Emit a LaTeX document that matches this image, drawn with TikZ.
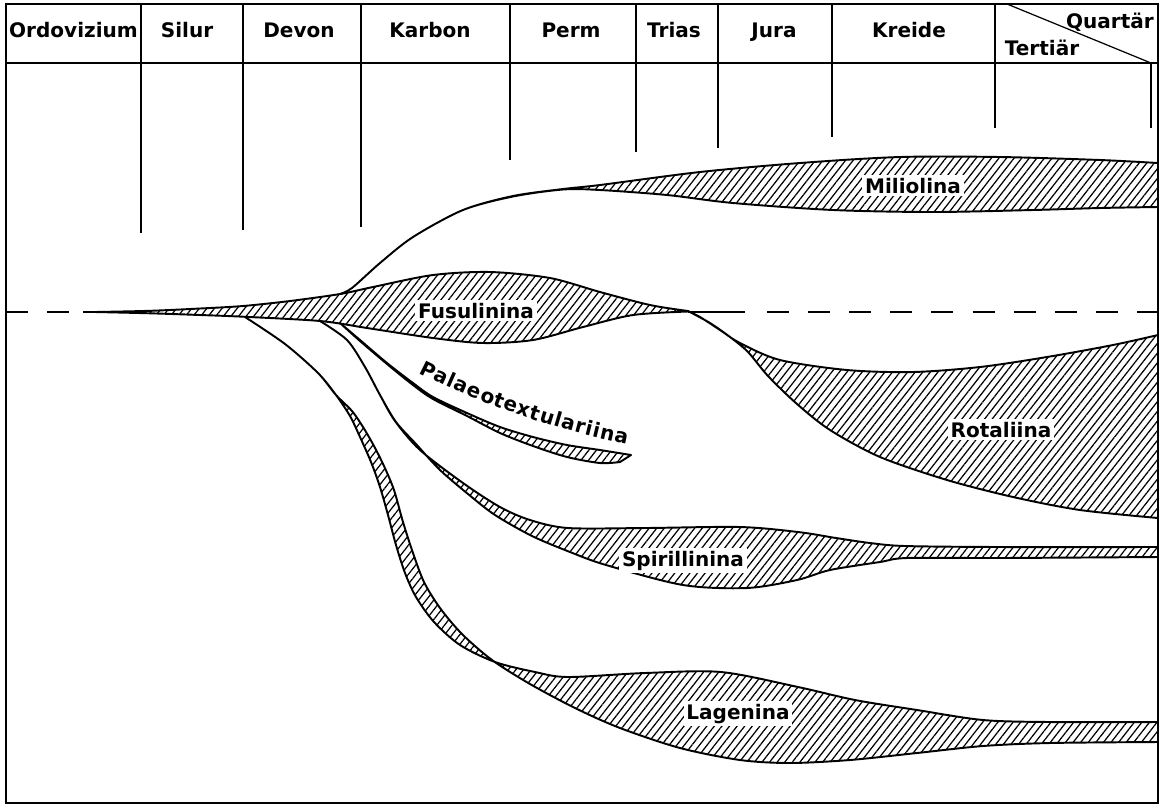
\documentclass[tikz,border=0pt]{standalone}
\usepackage{fontspec}
\newfontfamily\dinfont{DejaVu Sans}
\newcommand\labfont{\dinfont\bfseries\fontsize{11.4pt}{13pt}\selectfont}
\usetikzlibrary{patterns.meta,decorations.text}
\tikzset{
  frame/.style={line width=1.2pt},
  divider/.style={line width=0.7pt},
  taxon/.style={line width=1.1pt, line join=round,
    pattern={Lines[angle=52,distance=3.4pt,line width=0.7pt]}},
  dashline/.style={line width=1.2pt, dash pattern=on 12.5pt off 10.9pt},
  solidline/.style={line width=1.2pt},
  lbl/.style={font=\labfont, fill=white, inner sep=1.5pt, anchor=base},
  hdr/.style={font=\labfont, anchor=base, inner sep=0pt},
}
\begin{document}
\begin{tikzpicture}[x=0.02cm,y=-0.02cm]
\useasboundingbox (0,0) rectangle (1163,806);
% frame and header
\draw[frame] (6,4) rectangle (1158,803);
\draw[frame] (6,63) -- (1158,63);
\draw[divider] (141,4) -- (141,233);
\draw[divider] (243,4) -- (243,230);
\draw[divider] (361,4) -- (361,227);
\draw[divider] (510,4) -- (510,160);
\draw[divider] (636,4) -- (636,152);
\draw[divider] (718,4) -- (718,148);
\draw[divider] (832,4) -- (832,137);
\draw[divider] (995,4) -- (995,128);
\draw[divider] (1151,63) -- (1151,128);
\draw[divider] (1007,4) -- (1151,63);
\node[hdr] (ord) at (73.5,37) {Ordovizium};
\node[hdr] (sil) at (187,37) {Silur};
\node[hdr] (dev) at (299,37) {Devon};
\node[hdr] (kar) at (430,37) {Karbon};
\node[hdr] (per) at (571,37) {Perm};
\node[hdr] (tri) at (674,37) {Trias};
\node[hdr] (jur) at (774,37) {Jura};
\node[hdr] (kre) at (909,37) {Kreide};
\node[hdr] (ter) at (1042,55) {Tertiär};
\node[hdr] (qua) at (1110,28) {Quartär};
% dashed reference line
\draw[dashline] (6,312) -- (70,312);
\draw[solidline] (83,312) -- (100,312);
\draw[solidline] (688,312) -- (745,312);
\draw[dashline] (767,312) -- (1158,312);
% Fusulinina with stem
\draw[taxon] plot[smooth] coordinates {(95,312) (150,310.8) (200,308.5) (243,306) (290,301) (340,294) (373,287) (433,275) (490,272) (550,278) (600,292) (650,305) (688,311)}
  -- plot[smooth] coordinates {(688,311.5) (633,315) (583,327) (533,340) (483,343) (433,338) (367,328) (320,321) (243,316.7) (200,315) (150,313.3) (95,312)} -- cycle;
% Miliolina
\draw[taxon] plot[smooth] coordinates {(340,294) (352,288) (380,263) (413,237) (463,210) (513,196) (563,189) (600,185) (700,172) (800,163) (900,157) (1000,157) (1100,160) (1158,163)}
  -- plot[smooth] coordinates {(1158,207) (1100,208) (1033,210) (933,212) (833,210) (733,203) (667,195) (600,190) (563,189.5) (513,196.5) (463,210) (413,237) (380,263) (352,288) (340,294)} -- cycle;
% Rotaliina
\draw[taxon] plot[smooth] coordinates {(688,311) (700,317) (720,330) (740,343) (780,360) (847,370) (913,372) (980,367) (1047,357) (1113,345) (1158,335)}
  -- plot[smooth] coordinates {(1158,518) (1080,510) (1013,497) (947,480) (880,457) (830,430) (797,404) (768,376) (748,352) (730,337) (710,323) (688,311)} -- cycle;
% Palaeotextulariina
\draw[taxon] plot[smooth] coordinates {(340,323) (360,340) (387,363) (413,383) (433,397) (467,413) (500,427) (533,437) (567,445) (600,450) (631,455)}
  -- plot[smooth] coordinates {(620,462) (600,463) (567,457) (533,446) (500,433) (467,416) (433,399) (413,385) (387,364) (360,341) (340,323)} -- cycle;
% Spirillinina
\draw[taxon] plot[smooth] coordinates {(320,321) (347,340) (365,367) (380,395) (395,421) (420,450) (463,483) (500,507) (530,520) (568,528) (645,528) (740,527) (798,532) (836,538) (870,543) (905,546) (1000,547) (1158,547)}
  -- plot[smooth] coordinates {(1158,557) (1000,558) (907,558) (880,562) (830,570) (797,580) (747,588) (683,585) (606,565) (570,552) (532,536) (495,515) (468,494) (440,470) (416,444) (396,422) (380,395) (365,367) (347,340) (320,321)} -- cycle;
% Lagenina
\draw[taxon] plot[smooth] coordinates {(245,317) (285,344) (318,373) (336,395) (350,416) (360,437) (371,462) (380,487) (388,515) (396,545) (405,573) (416,597) (434,622) (460,645) (495,662) (535,672) (568,677) (645,673) (721,672) (798,687) (855,700) (917,710) (983,720) (1050,722) (1158,722)}
  -- plot[smooth] coordinates {(1158,742) (1050,743) (983,746) (917,753) (850,760) (790,763) (740,760) (680,748) (620,728) (575,708) (530,684) (492,660) (462,634) (440,608) (424,582) (413,553) (403,522) (394,490) (384,466) (374,446) (363,427) (352,411) (336,395) (318,373) (285,344) (245,317)} -- cycle;
% labels
\node[lbl] (fus) at (476,318) {Fusulinina};
\node[lbl] (mil) at (913,193) {Miliolina};
\node[lbl] (rot) at (1001,437) {Rotaliina};
\node[lbl] (spi) at (683,566) {Spirillinina};
\node[lbl] (lag) at (738,719) {Lagenina};
\path[decorate, decoration={text along path, text={|\labfont|Palaeotextulariina}, text align=fit to path}]
  (419,373) .. controls (462,395) and (540,427) .. (627,444);
\end{tikzpicture}
\end{document}
